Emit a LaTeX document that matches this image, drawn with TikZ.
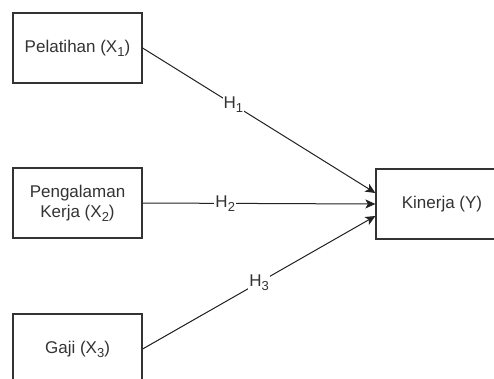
\documentclass[tikz,border=0pt]{standalone}
\usepackage{fontspec}
\setmainfont{Liberation Sans}
\usepackage{tikz}
\usetikzlibrary{arrows.meta}

\definecolor{textgray}{HTML}{333333}
\definecolor{linegray}{HTML}{222222}

% draw.io style subscript
\newcommand{\lowsub}[1]{\raisebox{-4pt}{\fontsize{13pt}{13pt}\selectfont #1}}

\begin{document}
\begin{tikzpicture}[x=1pt,
            y=-1pt,
            >={Stealth[length=10pt,width=9pt,inset=2.5pt]},
            var/.style={draw=textgray, line width=1.2pt, rectangle,
                        minimum width=129pt, minimum height=70pt,
                        align=center, text=textgray,
                        font=\fontsize{17pt}{20pt}\selectfont},
            hyp/.style={fill=white, inner sep=1pt, text=textgray,
                        font=\fontsize{17pt}{20pt}\selectfont},
            link/.style={->, draw=linegray, line width=1pt}]

        \clip (0,0) rectangle (494,378);
        \fill[white] (0,0) rectangle (494,378);

        \node[var] (x1) at (77.5,48)  {Pelatihan (X\lowsub{1})};
        \node[var] (x2) at (77.5,203) {Pengalaman\\Kerja (X\lowsub{2})};
        \node[var] (x3) at (77.5,349) {Gaji (X\lowsub{3})};
        \node[var, minimum width=132pt] (y) at (442,204) {Kinerja (Y)};

        \path (x1.east) edge [link] node[hyp, pos=0.39] {H\lowsub{1}} ([yshift=11pt]y.west)
              (x2.east) edge [link] node[hyp, pos=0.355] {H\lowsub{2}} (y.west)
              (x3.east) edge [link] node[hyp, pos=0.5] {H\lowsub{3}} ([yshift=-12pt]y.west);

\end{tikzpicture}
\end{document}
